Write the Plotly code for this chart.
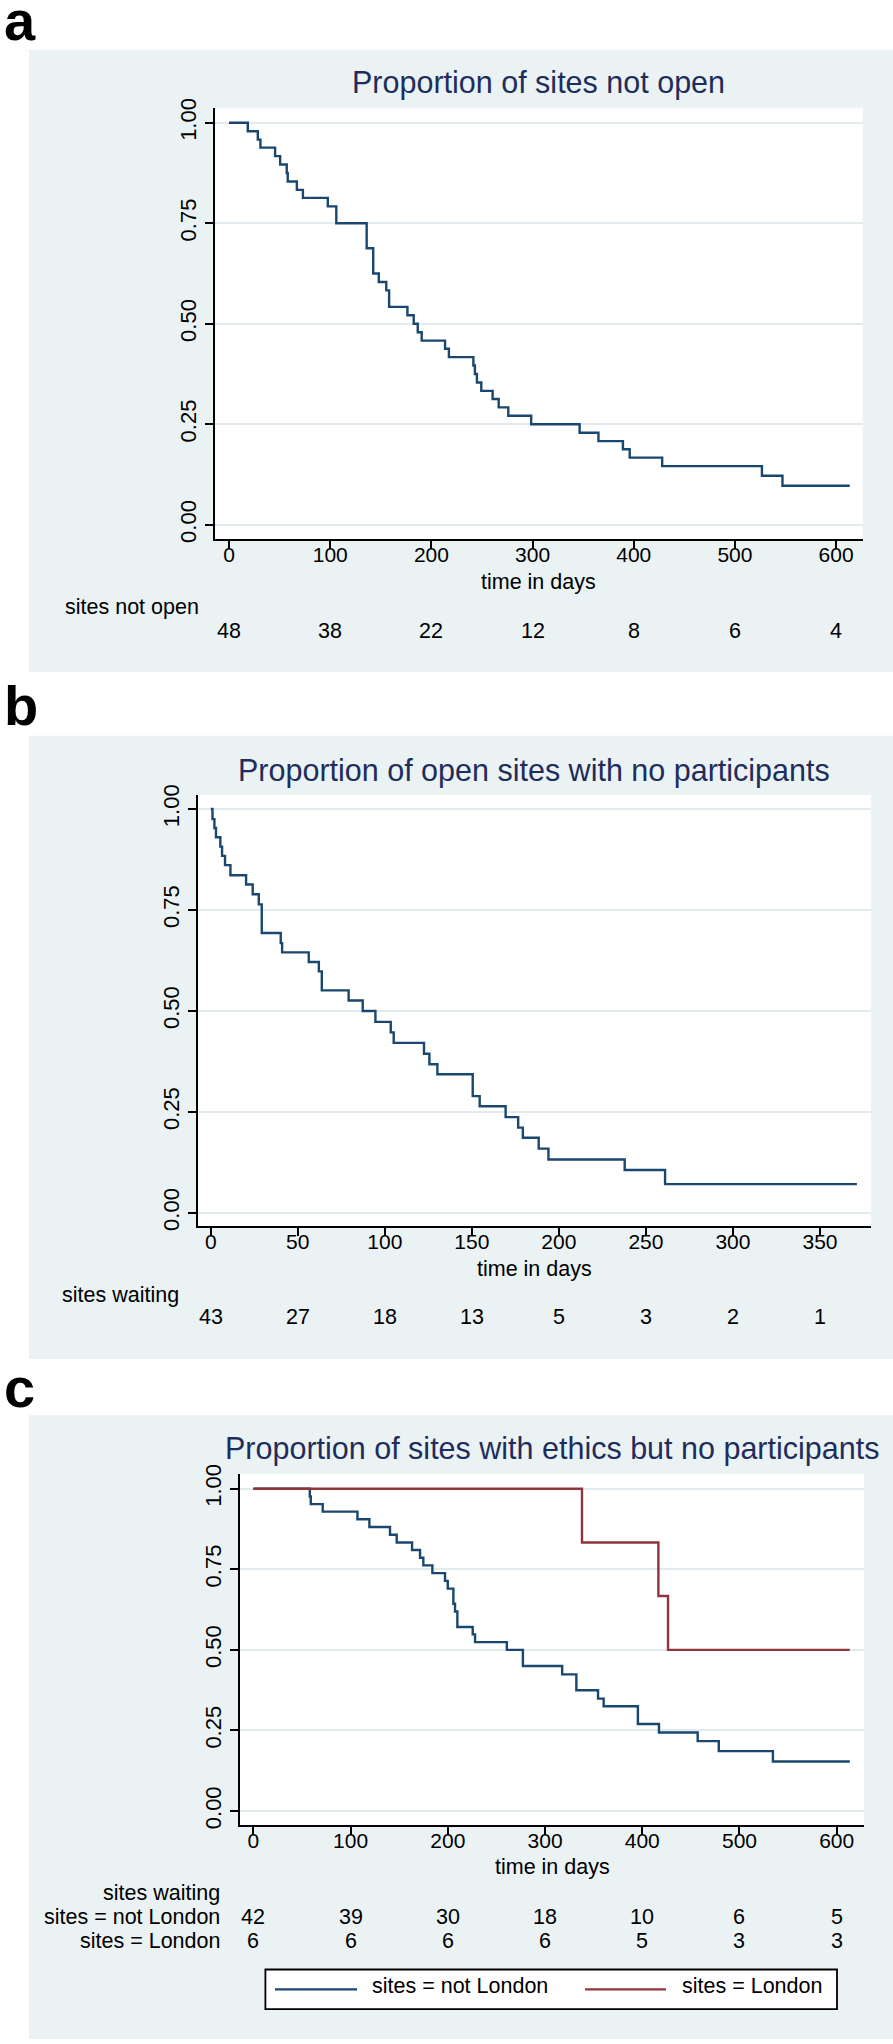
import plotly.graph_objects as go

W, H = 893, 2044
FONT = "Liberation Sans, Arial, Helvetica, sans-serif"
NAVY = "#1a476f"
MAROON = "#90353b"
TITLE_C = "#1f2d5c"
BG = "#eaf2f3"
GRID = "#e1ebee"

# ---------------- data ----------------
# a: proportion of sites not open (Kaplan-Meier steps)
a_days = [0, 18.5, 28.4, 31, 45.5, 50.5, 57, 58, 67, 73, 97.6, 106, 136, 142.5, 148,
          155.4, 158.2, 176.3, 182.5, 186.5, 190.4, 213.5, 217.3, 241.5, 243, 245,
          249.3, 260.5, 266.5, 276, 298.6, 346.5, 365.1, 389.3, 396, 428.1, 526.7, 547]
a_surv = [1.000, 0.979, 0.958, 0.938, 0.917, 0.896, 0.875, 0.854, 0.833, 0.813, 0.792,
          0.750, 0.688, 0.625, 0.604, 0.583, 0.542, 0.521, 0.500, 0.479, 0.458, 0.438,
          0.417, 0.396, 0.375, 0.354, 0.333, 0.313, 0.292, 0.271, 0.250, 0.229, 0.208,
          0.188, 0.167, 0.146, 0.122, 0.097]
a_last_day = 613.5
a_risk_days = [0, 100, 200, 300, 400, 500, 600]
a_risk = [48, 38, 22, 12, 8, 6, 4]

# b: proportion of open sites with no participants
b_days = [0, 1, 2.1, 3, 5.5, 6.5, 8.2, 11.3, 20.3, 24.1, 27.6, 29.3, 40.2, 41, 56.3, 62.1,
          63.8, 79.2, 87.3, 94.6, 103.4, 105.1, 122.5, 125.6, 130.2, 150.5, 154.5, 169.4,
          176.6, 179.3, 188.4, 194, 237.8, 261]
b_surv = [1.0, 0.975, 0.953, 0.930, 0.907, 0.884, 0.861, 0.836, 0.813, 0.789, 0.764, 0.693,
          0.668, 0.645, 0.621, 0.598, 0.551, 0.526, 0.500, 0.473, 0.447, 0.421, 0.394, 0.368,
          0.343, 0.289, 0.264, 0.237, 0.211, 0.186, 0.159, 0.132, 0.106, 0.071]
b_last_day = 371.2
b_risk_days = [0, 50, 100, 150, 200, 250, 300, 350]
b_risk = [43, 27, 18, 13, 5, 3, 2, 1]

# c: proportion of sites with ethics but no participants
c_nl_days = [0, 58, 59, 71.3, 107, 119.3, 140.5, 147.4, 163.2, 171.4, 174.8, 184.1, 197.1,
             199.9, 205.7, 207.4, 209.8, 225.6, 228, 260.7, 277.2, 317.6, 332.2, 354.5,
             360.3, 395.5, 417.2, 457, 478.7, 534.4]
c_nl_surv = [1.0, 0.976, 0.952, 0.929, 0.905, 0.881, 0.857, 0.833, 0.810, 0.786, 0.762,
             0.738, 0.714, 0.690, 0.643, 0.619, 0.571, 0.548, 0.524, 0.500, 0.450, 0.424,
             0.375, 0.349, 0.325, 0.270, 0.244, 0.217, 0.186, 0.154]
c_l_days = [0, 338, 416.6, 426.5]
c_l_surv = [1.0, 0.833, 0.667, 0.500]
c_last_day = 613.5
c_risk_days = [0, 100, 200, 300, 400, 500, 600]
c_risk_notlondon = [42, 39, 30, 18, 10, 6, 5]
c_risk_london = [6, 6, 6, 6, 5, 3, 3]

y_ticks = [0, 0.25, 0.5, 0.75, 1.0]

# ---------------- helpers ----------------
def px(x):
    return x / W

def py(y):
    return 1 - y / H

fig = go.Figure()

def step(days, surv, last, color, xa, ya, name):
    fig.add_trace(go.Scatter(
        x=list(days) + [last], y=list(surv) + [surv[-1]],
        mode="lines", line=dict(shape="hv", color=color, width=2.4),
        xaxis=xa, yaxis=ya, name=name, showlegend=False, hoverinfo="x+y"))

step(a_days, a_surv, a_last_day, NAVY, "x", "y", "sites not open")
step(b_days, b_surv, b_last_day, NAVY, "x2", "y2", "sites waiting")
step(c_nl_days, c_nl_surv, c_last_day, NAVY, "x3", "y3", "sites = not London")
step(c_l_days, c_l_surv, c_last_day, MAROON, "x3", "y3", "sites = London")

# panel geometry (pixels)
panels = [
    dict(x0=215, x1=862.7, y0=99, y1=533, xr=[-13.9, 626.3], yr=[-0.0356, 1.036],
         ticks=a_risk_days, bg=(40, 667)),
    dict(x0=197.7, x1=871, y0=790.7, y1=1225.3, xr=[-7.5, 379.3], yr=[-0.0334, 1.035],
         ticks=b_risk_days, bg=(731, 1359)),
    dict(x0=240, x1=864, y0=1475, y1=1828.7, xr=[-13.8, 628.1], yr=[-0.044, 1.045],
         ticks=c_risk_days, bg=(1415.7, 2044)),
]

shapes = []
layout_axes = {}
for i, p in enumerate(panels):
    sfx = "" if i == 0 else str(i + 1)
    shapes.append(dict(type="rect", xref="paper", yref="paper", layer="below",
                       x0=px(29), x1=1, y0=py(p["bg"][1]), y1=py(p["bg"][0]),
                       fillcolor=BG, line=dict(width=0)))
    shapes.append(dict(type="rect", xref="paper", yref="paper", layer="below",
                       x0=px(p["x0"]), x1=px(p["x1"]), y0=py(p["y1"]), y1=py(p["y0"]),
                       fillcolor="white", line=dict(width=0)))
    layout_axes["xaxis" + sfx] = dict(
        domain=[px(p["x0"]), px(p["x1"])], range=p["xr"], anchor="y" + sfx,
        tickvals=p["ticks"], ticks="outside", ticklen=8, tickwidth=1.5, tickcolor="black",
        ticklabelstandoff=-12,
        showline=True, linecolor="black", linewidth=1.8, showgrid=False, zeroline=False,
        tickfont=dict(family=FONT, size=21, color="black"), fixedrange=True)
    layout_axes["yaxis" + sfx] = dict(
        domain=[py(p["y1"]), py(p["y0"])], range=p["yr"], anchor="x" + sfx,
        tickvals=y_ticks, tickformat=".2f", ticks="outside", ticklen=8, tickwidth=1.5,
        tickcolor="black", tickangle=-90, showline=True, linecolor="black", linewidth=1.8,
        showgrid=True, gridcolor=GRID, gridwidth=2, zeroline=False,
        tickfont=dict(family=FONT, size=22, color="black"), fixedrange=True)

ann = []
DY = -4  # small upward nudge for annotation text centres

def text(x, y, s, size=21.5, color="black", xanchor="center", bold=False, xref="paper"):
    ann.append(dict(x=x if xref != "paper" else px(x), y=py(y + DY), xref=xref, yref="paper",
                    text=("<b>%s</b>" % s) if bold else s, showarrow=False,
                    xanchor=xanchor, yanchor="middle",
                    font=dict(family=FONT, size=size, color=color)))

# panel letters
text(2, 15, "a", size=56, xanchor="left", bold=True)
text(2, 705, "b", size=56, xanchor="left", bold=True)
text(2, 1392, "c", size=56, xanchor="left", bold=True)

# titles
text(538.9, 76.7, "Proportion of sites not open", size=30.5, color=TITLE_C)
text(534.3, 770, "Proportion of open sites with no participants", size=30.5, color=TITLE_C)
text(552, 1453.3, "Proportion of sites with ethics but no participants", size=30.5, color=TITLE_C)

# axis titles
text(538.9, 580, "time in days")
text(534.3, 1272, "time in days")
text(552, 1875, "time in days")

# number at risk
text(62.6, 605, "sites not open", xanchor="left")
for d, n in zip(a_risk_days, a_risk):
    text(d, 629.3, str(n), xref="x")
text(60, 1298, "sites waiting", xanchor="left")
for d, n in zip(b_risk_days, b_risk):
    text(d, 1320.7, str(n), xref="x2")
text(222, 1900.7, "sites waiting", xanchor="right")
text(222, 1925, "sites = not London", xanchor="right")
text(222, 1949.3, "sites = London", xanchor="right")
for d, n in zip(c_risk_days, c_risk_notlondon):
    text(d, 1925, str(n), xref="x3")
for d, n in zip(c_risk_days, c_risk_london):
    text(d, 1949.3, str(n), xref="x3")

# legend box
shapes.append(dict(type="rect", xref="paper", yref="paper", x0=px(265.4), x1=px(837),
                   y0=py(2014), y1=py(1974), fillcolor="white",
                   line=dict(color="black", width=1.8)))
shapes.append(dict(type="line", xref="paper", yref="paper", x0=px(275), x1=px(357),
                   y0=py(1994), y1=py(1994), line=dict(color=NAVY, width=2.4)))
shapes.append(dict(type="line", xref="paper", yref="paper", x0=px(585), x1=px(666),
                   y0=py(1994), y1=py(1994), line=dict(color=MAROON, width=2.4)))
text(370, 1994.7, "sites = not London", xanchor="left")
text(680, 1994.7, "sites = London", xanchor="left")

fig.update_layout(
    width=W, height=H, autosize=False,
    margin=dict(l=0, r=0, t=0, b=0, pad=0),
    paper_bgcolor="white", plot_bgcolor="rgba(0,0,0,0)",
    shapes=shapes, annotations=ann, showlegend=False,
    font=dict(family=FONT),
    **layout_axes,
)

fig.write_html(
    "out.html",
    config={"displayModeBar": False, "responsive": False},
    post_script=(
        "document.documentElement.style.margin='0px';"
        "document.body.style.margin='0px';"
        "document.body.style.padding='0px';"
        "document.body.style.overflow='hidden';"
        "var gd=document.getElementById('{plot_id}');"
        "gd.style.position='absolute';gd.style.top='0px';gd.style.left='0px';"
    ),
)
